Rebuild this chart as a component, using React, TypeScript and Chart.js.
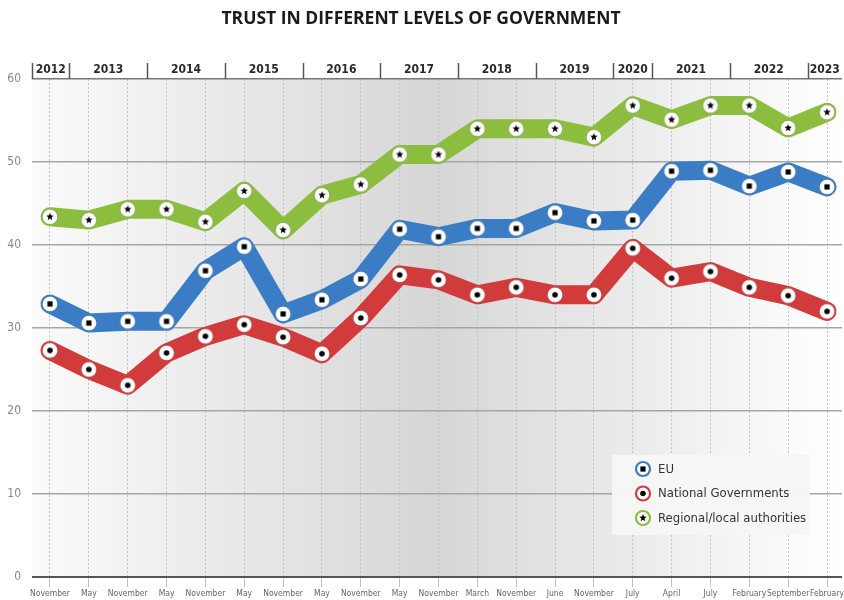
import React, { useEffect, useRef } from 'react';
import { Chart, registerables } from 'chart.js';

Chart.register(...registerables);

const TITLE = 'TRUST IN DIFFERENT LEVELS OF GOVERNMENT';

const months = [
  'November', 'May', 'November', 'May', 'November', 'May', 'November', 'May', 'November', 'May',
  'November', 'March', 'November', 'June', 'November', 'July', 'April', 'July', 'February', 'September', 'February',
];

const years = ['2012', '2013', '2014', '2015', '2016', '2017', '2018', '2019', '2020', '2021', '2022', '2023'];
// year boundaries, in category index units (between survey waves)
const yearDividers = [0.5, 2.5, 4.5, 6.5, 8.5, 10.5, 12.5, 14.5, 15.5, 17.5, 19.5];

const seriesLabels = ['EU', 'National Governments', 'Regional/local authorities'];

const eu = [32.9, 30.6, 30.8, 30.8, 36.9, 39.8, 31.7, 33.4, 35.9, 41.9, 41.0, 42.0, 42.0, 43.9, 42.9, 43.0, 48.9, 49.0, 47.1, 48.8, 47.0];
const national = [27.3, 25.0, 23.1, 27.0, 29.0, 30.4, 28.9, 26.9, 31.2, 36.4, 35.8, 34.0, 34.9, 34.0, 34.0, 39.6, 36.0, 36.8, 34.9, 33.9, 32.0];
const regional = [43.4, 43.0, 44.3, 44.3, 42.8, 46.5, 41.8, 46.0, 47.3, 50.9, 50.9, 54.0, 54.0, 54.0, 53.0, 56.8, 55.1, 56.8, 56.8, 54.1, 56.0];

const yTicks = [0, 10, 20, 30, 40, 50, 60];

const NARROW = "'Liberation Sans Narrow', 'DejaVu Sans Condensed', 'Liberation Sans', sans-serif";
const COLORS = ['#3b7dc4', '#d13b3b', '#8cbd3f'];
const SHAPES = ['square', 'circle', 'star'];

function drawSymbol(ctx: CanvasRenderingContext2D, shape: string, cx: number, cy: number) {
  ctx.fillStyle = '#000';
  if (shape === 'square') {
    ctx.fillRect(cx - 2.6, cy - 2.6, 5.2, 5.2);
  } else if (shape === 'circle') {
    ctx.beginPath();
    ctx.arc(cx, cy, 2.8, 0, Math.PI * 2);
    ctx.fill();
  } else {
    ctx.beginPath();
    for (let i = 0; i < 10; i++) {
      const r = i % 2 === 0 ? 3.9 : 1.7;
      const a = -Math.PI / 2 + (i * Math.PI) / 5;
      const px = cx + r * Math.cos(a);
      const py = cy + r * Math.sin(a);
      if (i === 0) ctx.moveTo(px, py);
      else ctx.lineTo(px, py);
    }
    ctx.closePath();
    ctx.fill();
  }
}

function makeMarker(shape: string) {
  const c = document.createElement('canvas');
  c.width = 18;
  c.height = 18;
  const ctx = c.getContext('2d')!;
  ctx.beginPath();
  ctx.arc(9, 9, 7.6, 0, Math.PI * 2);
  ctx.fillStyle = '#ffffff';
  ctx.fill();
  ctx.lineWidth = 1;
  ctx.strokeStyle = 'rgba(0,0,0,0.18)';
  ctx.stroke();
  drawSymbol(ctx, shape, 9, 9);
  return c;
}

const backgroundPlugin = {
  id: 'bgGradient',
  beforeDraw(chart: any) {
    const { ctx, chartArea } = chart;
    const { left, right, top, bottom } = chartArea;
    const g = ctx.createLinearGradient(left, 0, right, 0);
    g.addColorStop(0, '#fbfbfb');
    g.addColorStop(0.5, '#d6d6d6');
    g.addColorStop(0.65, '#e4e4e4');
    g.addColorStop(1, '#ffffff');
    ctx.save();
    ctx.fillStyle = g;
    ctx.fillRect(left, top, right - left, bottom - top);
    ctx.restore();
  },
};

const yearBandPlugin = {
  id: 'yearBand',
  afterDraw(chart: any) {
    const { ctx, chartArea } = chart;
    const xs = chart.scales.x;
    const top = chartArea.top;
    const bounds = [chartArea.left, ...yearDividers.map((d) => xs.getPixelForValue(d)), chartArea.right];
    ctx.save();
    ctx.strokeStyle = '#555';
    ctx.lineWidth = 1.5;
    const allDiv = [chartArea.left, ...yearDividers.map((d) => xs.getPixelForValue(d))];
    allDiv.forEach((px) => {
      ctx.beginPath();
      ctx.moveTo(Math.round(px) + 0.5, top - 16);
      ctx.lineTo(Math.round(px) + 0.5, top);
      ctx.stroke();
    });
    ctx.fillStyle = '#2a2a2a';
    ctx.font = `bold 12px ${NARROW}`;
    ctx.textAlign = 'center';
    ctx.textBaseline = 'middle';
    years.forEach((y, i) => {
      const cx = (bounds[i] + bounds[i + 1]) / 2;
      ctx.fillText(y, cx, top - 9);
    });
    ctx.restore();
  },
};

const legendPlugin = {
  id: 'customLegend',
  afterDraw(chart: any) {
    const { ctx, chartArea } = chart;
    const bx = chartArea.right - 230;
    const by = chartArea.bottom - 122;
    ctx.save();
    ctx.fillStyle = 'rgba(246,246,246,0.97)';
    ctx.fillRect(bx, by, 198, 80);
    seriesLabels.forEach((label, i) => {
      const cx = bx + 31;
      const cy = by + 14 + i * 24.5;
      ctx.beginPath();
      ctx.arc(cx, cy, 7, 0, Math.PI * 2);
      ctx.fillStyle = '#fff';
      ctx.fill();
      ctx.lineWidth = 2.2;
      ctx.strokeStyle = COLORS[i];
      ctx.stroke();
      drawSymbol(ctx, SHAPES[i], cx, cy);
      ctx.fillStyle = '#333';
      ctx.font = `13px ${NARROW}`;
      ctx.textAlign = 'left';
      ctx.textBaseline = 'middle';
      ctx.fillText(label, cx + 15, cy + 0.5);
    });
    ctx.restore();
  },
};

export default function App() {
  const ref = useRef<HTMLCanvasElement | null>(null);

  useEffect(() => {
    if (!ref.current) return;
    const series = [eu, national, regional];
    const markers = SHAPES.map((s) => makeMarker(s));
    const chart = new Chart(ref.current, {
      type: 'line',
      data: {
        datasets: series.map((vals, i) => ({
          label: seriesLabels[i],
          data: vals.map((v, k) => ({ x: k, y: v })),
          borderColor: COLORS[i],
          backgroundColor: COLORS[i],
          borderWidth: 19,
          borderCapStyle: 'round',
          borderJoinStyle: 'round',
          tension: 0,
          pointStyle: markers[i],
          pointRadius: 8,
          pointHoverRadius: 8,
          fill: false,
          clip: false,
        })),
      },
      options: {
        responsive: false,
        animation: false,
        events: [],
        layout: { autoPadding: false, padding: { left: 0, right: 2, top: 0, bottom: 0 } },
        plugins: {
          legend: { display: false },
          tooltip: { enabled: false },
          title: {
            display: true,
            text: TITLE,
            color: '#1a1a1a',
            font: { family: "'Open Sans', 'Liberation Sans', sans-serif", size: 17.5, weight: 'bold' },
            padding: { top: 9, bottom: 49 },
          },
        },
        scales: {
          x: {
            type: 'linear',
            min: -0.463,
            max: 20.386,
            afterBuildTicks: (s: any) => {
              s.ticks = months.map((_, i) => ({ value: i }));
            },
            afterFit: (s: any) => {
              s.height = 23;
              s.paddingLeft = 0;
              s.paddingRight = 0;
            },
            ticks: {
              autoSkip: false,
              maxRotation: 0,
              minRotation: 0,
              padding: 2,
              color: '#666',
              font: { family: NARROW, size: 8.5 },
              callback: (v: any) => months[v as number] ?? '',
            },
            grid: { color: '#c2c2c2', lineWidth: 1, tickLength: 10 },
            border: { display: false, dash: [2, 2] },
          },
          y: {
            min: 0,
            max: 60,
            afterBuildTicks: (s: any) => {
              s.ticks = yTicks.map((v) => ({ value: v }));
            },
            afterFit: (s: any) => {
              s.width = 32;
              s.paddingTop = 0;
              s.paddingBottom = 0;
            },
            ticks: { padding: 11, color: '#888', font: { family: NARROW, size: 12 } },
            grid: {
              drawTicks: false,
              color: (c: any) => (c.tick.value === 0 ? '#555' : c.tick.value === 60 ? '#777' : '#a6a6a6'),
              lineWidth: (c: any) => (c.tick.value === 0 ? 2 : 1.5),
            },
            border: { display: false },
          },
        },
      },
      plugins: [backgroundPlugin, yearBandPlugin, legendPlugin],
    } as any);
    return () => chart.destroy();
  }, []);

  return (
    <div style={{ position: 'absolute', left: 0, top: 0, width: 844, height: 600, background: '#fff' }}>
      <canvas ref={ref} width={844} height={600} />
    </div>
  );
}
